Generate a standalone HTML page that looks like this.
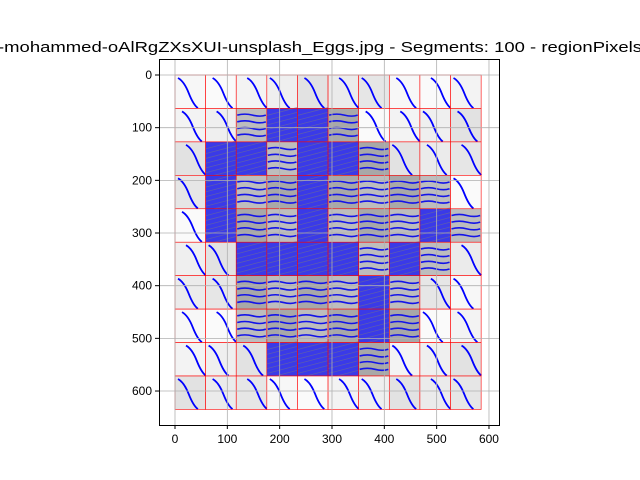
<!DOCTYPE html>
<html><head><meta charset="utf-8"><style>
html,body{margin:0;padding:0;background:#fff;}
svg{display:block;font-family:"Liberation Sans","DejaVu Sans",sans-serif;}
</style></head><body>
<svg id="chart" width="640" height="480" viewBox="0 0 640 480">
<text x="-2" y="52" font-size="15" textLength="644" lengthAdjust="spacingAndGlyphs">-mohammed-oAlRgZXsXUI-unsplash_Eggs.jpg - Segments: 100 - regionPixels</text>
<g id="img"></g>
<g id="grid"></g>
<rect x="159.5" y="59.5" width="340" height="366" fill="none" stroke="#000" stroke-width="1"/>
<g id="axes"></g>
</svg>
<script>
const xTicks=[0,100,200,300,400,500,600];
const yTicks=[0,100,200,300,400,500,600];
const imgW=585, imgH=635;
// cell types per row: 0 light background, 1 grey egg, 2 dark egg (dense blue)
const cellTypes=[
[0,0,0,0,0,0,0,0,0,0],
[0,0,1,2,2,1,0,0,0,0],
[0,2,2,1,2,2,1,0,0,0],
[0,2,1,1,2,1,1,1,1,0],
[0,2,1,1,2,1,1,1,2,1],
[0,0,2,2,2,2,1,2,1,0],
[0,0,1,1,1,1,2,1,0,0],
[0,0,1,1,1,1,2,1,0,0],
[0,0,0,2,2,2,1,0,0,0],
[0,0,0,0,0,0,0,0,0,0]
];
const NS="http://www.w3.org/2000/svg";
const sx=x=>175+x*0.5233, sy=y=>75+y*0.5267;
function mk(tag,attrs,parent){const e=document.createElementNS(NS,tag);for(const k in attrs)e.setAttribute(k,attrs[k]);parent.appendChild(e);return e;}
const img=document.getElementById('img'),grid=document.getElementById('grid'),axes=document.getElementById('axes');
const rows=cellTypes.length, cols=cellTypes[0].length;
const cw=imgW/cols, ch=imgH/rows;
const lightShades=['#f7f7f7','#efefef','#e6e6e6','#f3f3f3','#ebebeb','#fafafa','#e2e2e2'];
cellTypes.forEach((row,r)=>row.forEach((t,c)=>{
  const x0=sx(c*cw),y0=sy(r*ch),x1=sx((c+1)*cw),y1=sy((r+1)*ch);
  const w=x1-x0,h=y1-y0;
  const g=mk('g',{},img);
  
  
  let fill=t===0?lightShades[(r*3+c*5)%lightShades.length]:(t===1?((r+c)%2?'#bdbdbd':'#a8a8a8'):'#3a3ae8');
  mk('rect',{x:x0,y:y0,width:w,height:h,fill:fill},g);
  if(t===0){
    const ox=x0+3+((r+c)%3)*4, oy=y0+3;
    mk('path',{d:`M${ox},${oy} q${w*0.2},${h*0.1} ${w*0.35},${h*0.45} t${w*0.3},${h*0.45}`,fill:'none',stroke:'#0000ff','stroke-width':1.8},g);
  } else if(t===1){
    for(let k=1;k<=4;k++){
      const yy=y0+k*h/5;
      mk('path',{d:`M${x0+1},${yy} q${w/4},-2 ${w/2},0 t${w/2-2},0`,fill:'none',stroke:'#1414e8','stroke-width':1.6},g);
    }
  } else {
    for(let k=0;k<7;k++){
      const yy=y0+3+k*h/7;
      mk('path',{d:`M${x0},${yy+4} L${x1},${yy-4}`,fill:'none',stroke:'#707090','stroke-width':0.8,opacity:0.6},g);
    }
  }
  mk('rect',{x:x0,y:y0,width:w,height:h,fill:'none',stroke:'#ff0000','stroke-width':0.6},g);
}));
xTicks.forEach(v=>{
  const x=sx(v);
  if(x>160&&x<499){const l=mk('line',{x1:x,x2:x,y1:60,y2:425,stroke:'#b0b0b0','stroke-width':0.8},grid);
  }
  mk('line',{x1:x,x2:x,y1:425,y2:429,stroke:'#000'},axes);
  const t=mk('text',{x:x,y:443,'font-size':12,'text-anchor':'middle'},axes);t.textContent=v;
  
});
yTicks.forEach(v=>{
  const y=sy(v);
  if(y>60&&y<425){const l=mk('line',{x1:160,x2:499,y1:y,y2:y,stroke:'#b0b0b0','stroke-width':0.8},grid);
  }
  mk('line',{x1:155,x2:159.5,y1:y,y2:y,stroke:'#000'},axes);
  const t=mk('text',{x:152,y:y+4,'font-size':12,'text-anchor':'end'},axes);t.textContent=v;
  
});
</script>
</body></html>
